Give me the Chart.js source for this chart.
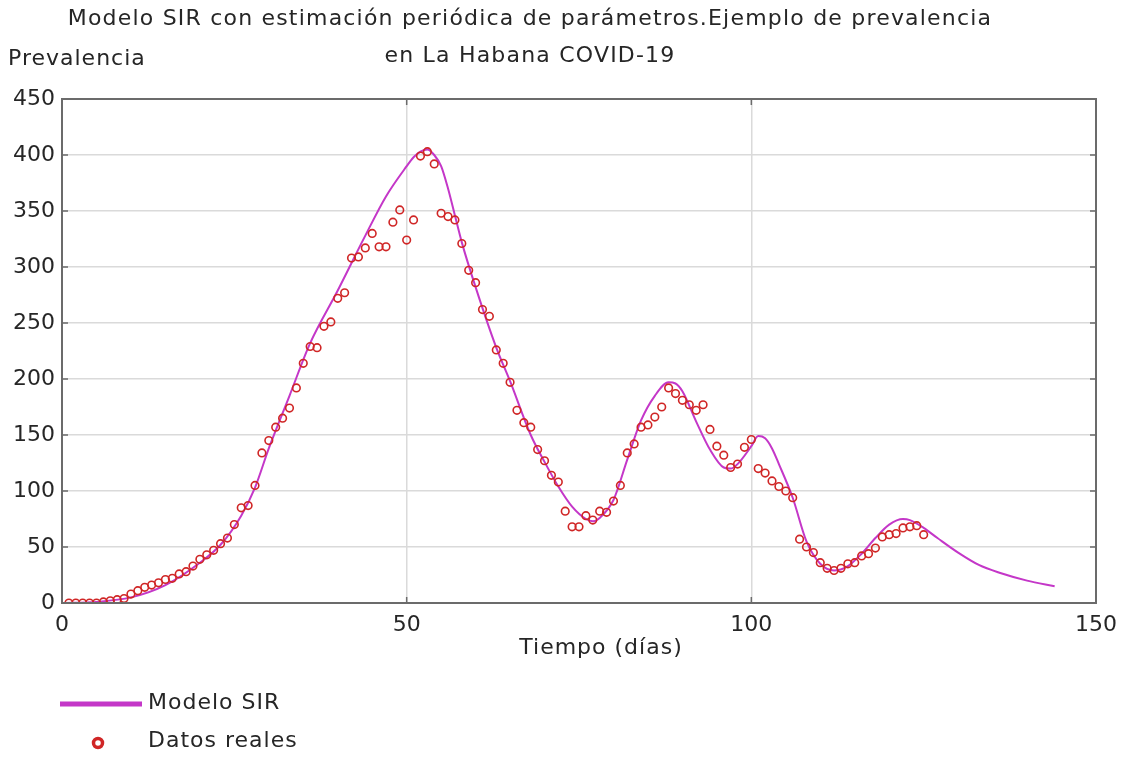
<!DOCTYPE html>
<html lang="es">
<head>
<meta charset="utf-8">
<title>Modelo SIR - La Habana COVID-19</title>
<script src="https://cdn.jsdelivr.net/npm/chart.js@4.4.0/dist/chart.umd.min.js"></script>
<style>
    html, body { margin: 0; padding: 0; background: #ffffff; }
    #chart { display: block; }
</style>
</head>
<body>
<canvas id="chart" width="1127" height="759"></canvas>
<script>
// Datos reales: prevalencia diaria, desde el dia 1
const firstDataDay = 1;
const realValues = [
    0, 0, 0, 0, 0, 1, 2, 3, 4, 8,
    11, 14, 16, 18, 21, 22, 26, 28, 33, 39,
    43, 47, 53, 58, 70, 85, 87, 105, 134, 145,
    157, 165, 174, 192, 214, 229, 228, 247, 251, 272,
    277, 308, 309, 317, 330, 318, 318, 340, 351, 324,
    342, 399, 403, 392, 348, 345, 342, 321, 297, 286,
    262, 256, 226, 214, 197, 172, 161, 157, 137, 127,
    114, 108, 82, 68, 68, 78, 74, 82, 81, 91,
    105, 134, 142, 157, 159, 166, 175, 192, 187, 181,
    177, 172, 177, 155, 140, 132, 121, 124, 139, 146,
    120, 116, 109, 104, 100, 94, 57, 50, 45, 36,
    31, 29, 31, 35, 36, 42, 44, 49, 59, 61,
    62, 67, 68, 69, 61
];

// Modelo SIR (curva)
const modelDays = [
    0, 5, 10, 15, 20, 23, 26, 28, 30, 33,
    36, 40, 44, 47, 50, 51, 52, 53, 54, 55,
    56, 57, 58, 60, 63, 65, 68, 70, 72, 74,
    76, 77, 78, 80, 82, 84, 86, 88, 89, 90,
    92, 94, 96, 97, 98, 100, 101, 102, 103, 104,
    106, 108, 110, 112, 114, 116, 118, 120, 122, 123,
    125, 127, 130, 133, 136, 140, 144
];
const modelValues = [
    0, 1, 5, 16, 36, 52, 78, 103, 138, 185,
    232, 279, 328, 363, 390, 398, 403, 405, 400, 390,
    370, 346, 322, 282, 228, 198, 150, 126, 104, 86,
    75, 73, 76, 92, 128, 163, 185, 197, 196, 189,
    162, 137, 121, 120, 124, 140, 149, 147, 138, 124,
    94, 55, 35, 29, 33, 44, 58, 70, 75, 74,
    67, 58, 45, 34, 27, 20, 15
];

const xTicks = [0, 50, 100, 150];
const yTicks = [0, 50, 100, 150, 200, 250, 300, 350, 400, 450];

const titleLines = [
    'Modelo SIR con estimación periódica de parámetros.Ejemplo de prevalencia',
    'en La Habana COVID-19'
];
const yLabel = 'Prevalencia';
const xLabel = 'Tiempo (días)';
const seriesNames = ['Modelo SIR', 'Datos reales'];

const FONT = '"DejaVu Sans", Verdana, sans-serif';
const TEXT = '#262626';
const LINE_COLOR = '#c437c8';
const DOT_COLOR = '#d02626';

const realPoints = realValues.map((v, i) => ({ x: firstDataDay + i, y: v }));
const modelPoints = modelDays.map((d, i) => ({ x: d, y: modelValues[i] }));

// frame, inner ticks and all free text
const decorations = {
    id: 'decorations',
    afterDraw(chart) {
        const ctx = chart.ctx;
        const a = chart.chartArea;
        const xs = chart.scales.x;
        const ys = chart.scales.y;
        ctx.save();

        ctx.strokeStyle = '#6b6b6b';
        ctx.lineWidth = 2;
        ctx.strokeRect(a.left, a.top, a.right - a.left, a.bottom - a.top);

        ctx.lineWidth = 1.5;
        ctx.beginPath();
        yTicks.slice(1, -1).forEach(v => {
            const py = ys.getPixelForValue(v);
            ctx.moveTo(a.left, py); ctx.lineTo(a.left + 6, py);
            ctx.moveTo(a.right, py); ctx.lineTo(a.right - 6, py);
        });
        xTicks.slice(1, -1).forEach(v => {
            const px = xs.getPixelForValue(v);
            ctx.moveTo(px, a.bottom); ctx.lineTo(px, a.bottom - 6);
            ctx.moveTo(px, a.top); ctx.lineTo(px, a.top + 6);
        });
        ctx.stroke();

        ctx.fillStyle = TEXT;
        ctx.textBaseline = 'middle';
        ctx.textAlign = 'center';
        ctx.font = '22px ' + FONT;
        ctx.letterSpacing = '1.2px';
        ctx.fillText(titleLines[0], 530, 19);
        ctx.fillText(titleLines[1], 530, 56);
        ctx.letterSpacing = '1px';
        ctx.fillText(xLabel, 601, 648);
        ctx.textAlign = 'left';
        ctx.fillText(yLabel, 8, 59);

        // legend
        ctx.strokeStyle = LINE_COLOR;
        ctx.lineWidth = 5;
        ctx.beginPath();
        ctx.moveTo(60, 704); ctx.lineTo(142, 704);
        ctx.stroke();
        ctx.strokeStyle = DOT_COLOR;
        ctx.lineWidth = 3.5;
        ctx.beginPath();
        ctx.arc(98, 743, 4.5, 0, Math.PI * 2);
        ctx.stroke();
        ctx.fillText(seriesNames[0], 148, 703);
        ctx.fillText(seriesNames[1], 148, 741);

        ctx.restore();
    }
};

// no grid line on the frame edges, the frame is drawn separately
const gridColor = (c) => {
    const n = c.chart.scales[c.scale.id].ticks.length;
    return (c.index === 0 || c.index === n - 1) ? 'rgba(0,0,0,0)' : '#dadada';
};

new Chart(document.getElementById('chart').getContext('2d'), {
    type: 'scatter',
    data: {
        datasets: [{
            label: seriesNames[0],
            type: 'line',
            data: modelPoints,
            borderColor: LINE_COLOR,
            borderWidth: 2,
            pointRadius: 0,
            fill: false,
            cubicInterpolationMode: 'monotone',
            order: 2
        }, {
            label: seriesNames[1],
            data: realPoints,
            pointStyle: 'circle',
            pointRadius: 3.8,
            pointBorderWidth: 1.6,
            borderColor: DOT_COLOR,
            backgroundColor: 'rgba(0,0,0,0)',
            order: 1
        }]
    },
    options: {
        responsive: false,
        animation: false,
        layout: { padding: { top: 99, right: 31, left: 0, bottom: 0 } },
        plugins: {
            legend: { display: false },
            title: { display: false },
            tooltip: { enabled: false }
        },
        scales: {
            x: {
                type: 'linear',
                min: 0,
                max: 150,
                afterBuildTicks: s => { s.ticks = xTicks.map(v => ({ value: v })); },
                afterFit: s => { s.height = 759 - 603; },
                ticks: { color: TEXT, font: { family: FONT, size: 22 }, padding: 9, maxRotation: 0 },
                grid: { color: gridColor, lineWidth: 1.5, drawTicks: false },
                border: { display: false }
            },
            y: {
                type: 'linear',
                min: 0,
                max: 450,
                afterBuildTicks: s => { s.ticks = yTicks.map(v => ({ value: v })); },
                afterFit: s => { s.width = 62; },
                ticks: { color: TEXT, font: { family: FONT, size: 22 }, padding: 7 },
                grid: { color: gridColor, lineWidth: 1.5, drawTicks: false },
                border: { display: false }
            }
        }
    },
    plugins: [decorations]
});
</script>
</body>
</html>
